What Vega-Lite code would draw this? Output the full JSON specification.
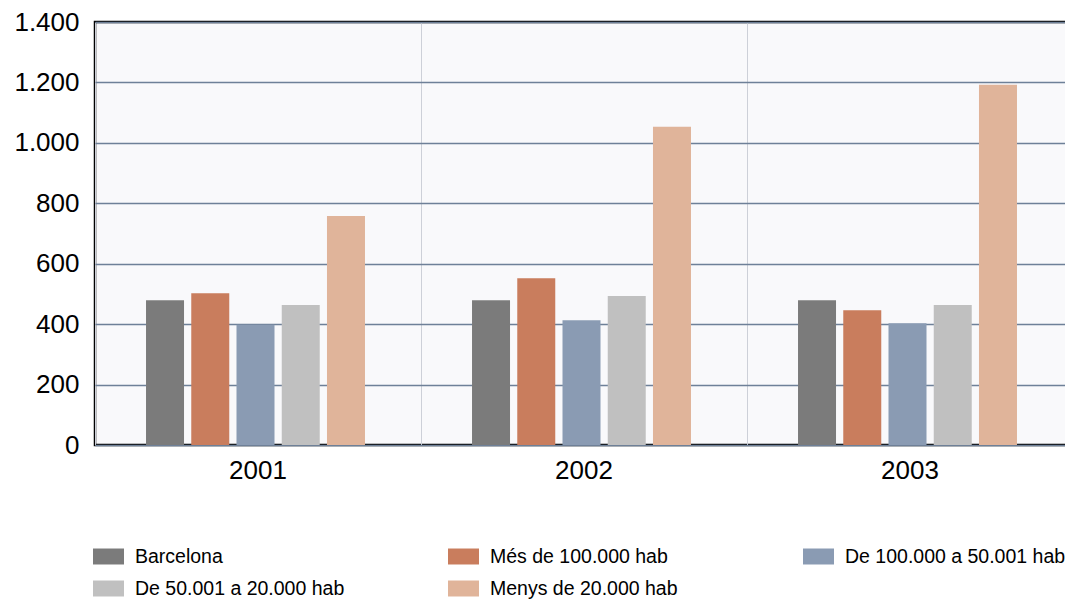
{
  "$schema": "https://vega.github.io/schema/vega-lite/v6.json",
  "width": 978,
  "height": 423,
  "autosize": {"type": "none"},
  "padding": {"left": 95, "top": 22, "right": 0, "bottom": 156},
  "background": "#ffffff",
  "config": {
    "font": "Liberation Sans",
    "view": {"stroke": "#000000", "strokeWidth": 2.5, "fill": "#f9f9fb"}
  },
  "data": {
    "values": [
      {"year": "2001", "group": "Barcelona", "value": 479},
      {"year": "2001", "group": "Més de 100.000 hab", "value": 502},
      {"year": "2001", "group": "De 100.000 a 50.001 hab", "value": 398},
      {"year": "2001", "group": "De 50.001 a 20.000 hab", "value": 463},
      {"year": "2001", "group": "Menys de 20.000 hab", "value": 758},
      {"year": "2002", "group": "Barcelona", "value": 479},
      {"year": "2002", "group": "Més de 100.000 hab", "value": 552},
      {"year": "2002", "group": "De 100.000 a 50.001 hab", "value": 413},
      {"year": "2002", "group": "De 50.001 a 20.000 hab", "value": 493},
      {"year": "2002", "group": "Menys de 20.000 hab", "value": 1053},
      {"year": "2003", "group": "Barcelona", "value": 479},
      {"year": "2003", "group": "Més de 100.000 hab", "value": 446},
      {"year": "2003", "group": "De 100.000 a 50.001 hab", "value": 403},
      {"year": "2003", "group": "De 50.001 a 20.000 hab", "value": 463},
      {"year": "2003", "group": "Menys de 20.000 hab", "value": 1192}
    ]
  },
  "mark": {"type": "bar"},
  "encoding": {
    "x": {
      "field": "year",
      "type": "nominal",
      "scale": {"paddingInner": 0, "paddingOuter": 0},
      "axis": {
        "title": null,
        "labelAngle": 0,
        "labelFontSize": 26,
        "labelColor": "#000000",
        "labelPadding": 12,
        "ticks": false,
        "domain": false,
        "grid": true,
        "bandPosition": 0,
        "gridColor": "#cdd0d8",
        "gridWidth": 1
      }
    },
    "xOffset": {
      "field": "group",
      "type": "nominal",
      "sort": ["Barcelona", "Més de 100.000 hab", "De 100.000 a 50.001 hab", "De 50.001 a 20.000 hab", "Menys de 20.000 hab"],
      "scale": {"range": [47.4, 273.6], "paddingInner": 0.16, "paddingOuter": 0.08}
    },
    "y": {
      "field": "value",
      "type": "quantitative",
      "scale": {"domain": [0, 1400]},
      "axis": {
        "title": null,
        "values": [0, 200, 400, 600, 800, 1000, 1200, 1400],
        "labelExpr": "replace(format(datum.value, ','), ',', '.')",
        "labelFontSize": 26,
        "labelColor": "#000000",
        "labelPadding": 16,
        "labelDy": 5,
        "ticks": false,
        "domain": false,
        "gridColor": "#6e8098",
        "gridWidth": 1.5
      }
    },
    "color": {
      "field": "group",
      "type": "nominal",
      "sort": ["Barcelona", "Més de 100.000 hab", "De 100.000 a 50.001 hab", "De 50.001 a 20.000 hab", "Menys de 20.000 hab"],
      "scale": {
        "domain": ["Barcelona", "Més de 100.000 hab", "De 100.000 a 50.001 hab", "De 50.001 a 20.000 hab", "Menys de 20.000 hab"],
        "range": ["#7b7b7b", "#c97d5d", "#8a9bb3", "#c0c0c0", "#e0b49a"]
      },
      "legend": {
        "title": null,
        "orient": "none",
        "legendX": -2,
        "legendY": 519,
        "columns": 3,
        "direction": "horizontal",
        "gridAlign": "all",
        "columnPadding": 92,
        "rowPadding": 7,
        "padding": 0,
        "symbolType": "M-1,-0.516H1V0.516H-1Z",
        "symbolSize": 961,
        "symbolStrokeWidth": 0,
        "symbolOpacity": 1,
        "labelFontSize": 19.5,
        "labelColor": "#000000",
        "labelOffset": 11,
        "labelLimit": 400
      }
    }
  }
}
